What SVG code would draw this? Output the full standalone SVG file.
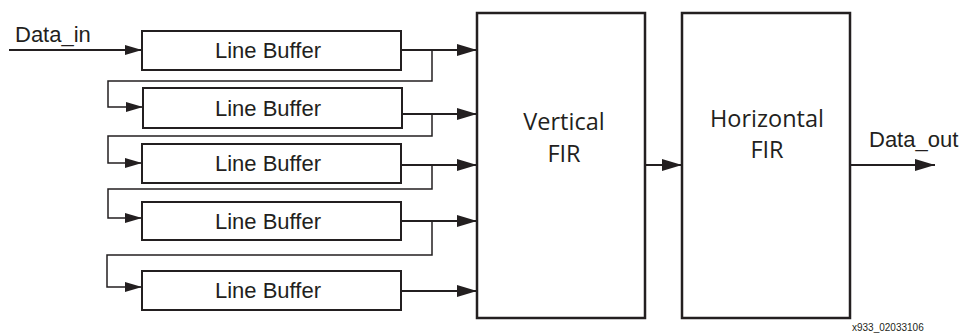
<svg xmlns="http://www.w3.org/2000/svg" width="964" height="333" viewBox="0 0 964 333">
<style>
.box{fill:#fff;stroke:#231f20;stroke-width:2}
.big{fill:#fff;stroke:#231f20;stroke-width:2.5}
.w{fill:none;stroke:#231f20;stroke-width:2}
.fb{fill:none;stroke:#231f20;stroke-width:1.5}
.t{font-family:"Liberation Sans",Arial,sans-serif;font-size:22px;fill:#231f20}
.m{font-family:"Open Sans","Noto Sans",sans-serif;font-size:23.5px;fill:#231f20;text-anchor:middle}
.lb{font-family:"Liberation Sans",Arial,sans-serif;font-size:22px;fill:#231f20;text-anchor:middle}
.ft{font-family:"Liberation Sans",Arial,sans-serif;font-size:10px;fill:#231f20}
</style>
<defs>
<marker id="ah" viewBox="0 0 20 12" refX="20" refY="6" markerWidth="20" markerHeight="12" markerUnits="userSpaceOnUse" orient="auto">
<path d="M0,0 L20,6 L0,12 Z" fill="#231f20"/>
</marker>
<marker id="as" viewBox="0 0 17 10" refX="17" refY="5" markerWidth="17" markerHeight="10" markerUnits="userSpaceOnUse" orient="auto">
<path d="M0,0 L17,5 L0,10 Z" fill="#231f20"/>
</marker>
</defs>
<g id="connectors">
<path class="w" d="M9,50 H142" marker-end="url(#as)"/>
<path class="w" d="M401,50 H477" marker-end="url(#ah)"/>
<path class="fb" d="M432,50 V81 H108 V107 H143" marker-end="url(#as)"/>
<path class="w" d="M402,114 H477" marker-end="url(#ah)"/>
<path class="fb" d="M432,114 V136 H108 V163 H142" marker-end="url(#as)"/>
<path class="w" d="M401,165 H477" marker-end="url(#ah)"/>
<path class="fb" d="M432,165 V189 H108 V218 H142" marker-end="url(#as)"/>
<path class="w" d="M401,221 H477" marker-end="url(#ah)"/>
<path class="fb" d="M432,221 V255 H107 V287 H142" marker-end="url(#as)"/>
<path class="w" d="M401,291 H477" marker-end="url(#ah)"/>
<path class="w" d="M645,165 H682" marker-end="url(#ah)"/>
<path class="w" d="M850,165 H935" marker-end="url(#ah)"/>
</g>
<text class="t" x="15" y="42">Data_in</text>
<text class="t" x="869" y="147">Data_out</text>
<g id="lb1"><rect class="box" x="142" y="31" width="259" height="39"/><text class="lb" x="268" y="58">Line Buffer</text></g>
<g id="lb2"><rect class="box" x="143" y="88" width="259" height="40"/><text class="lb" x="268" y="115.5">Line Buffer</text></g>
<g id="lb3"><rect class="box" x="142" y="144" width="259" height="39"/><text class="lb" x="268" y="171">Line Buffer</text></g>
<g id="lb4"><rect class="box" x="142" y="202" width="259" height="38"/><text class="lb" x="268" y="228.5">Line Buffer</text></g>
<g id="lb5"><rect class="box" x="142" y="271" width="259" height="39"/><text class="lb" x="268" y="298">Line Buffer</text></g>
<g id="vfir"><rect class="big" x="477" y="13" width="168" height="305"/><text class="m" x="564" y="130">Vertical</text><text class="m" x="564" y="162">FIR</text></g>
<g id="hfir"><rect class="big" x="682" y="13" width="168" height="305"/><text class="m" x="767" y="127">Horizontal</text><text class="m" x="767" y="158">FIR</text></g>
<text class="ft" x="852" y="331">x933_02033106</text>
</svg>
